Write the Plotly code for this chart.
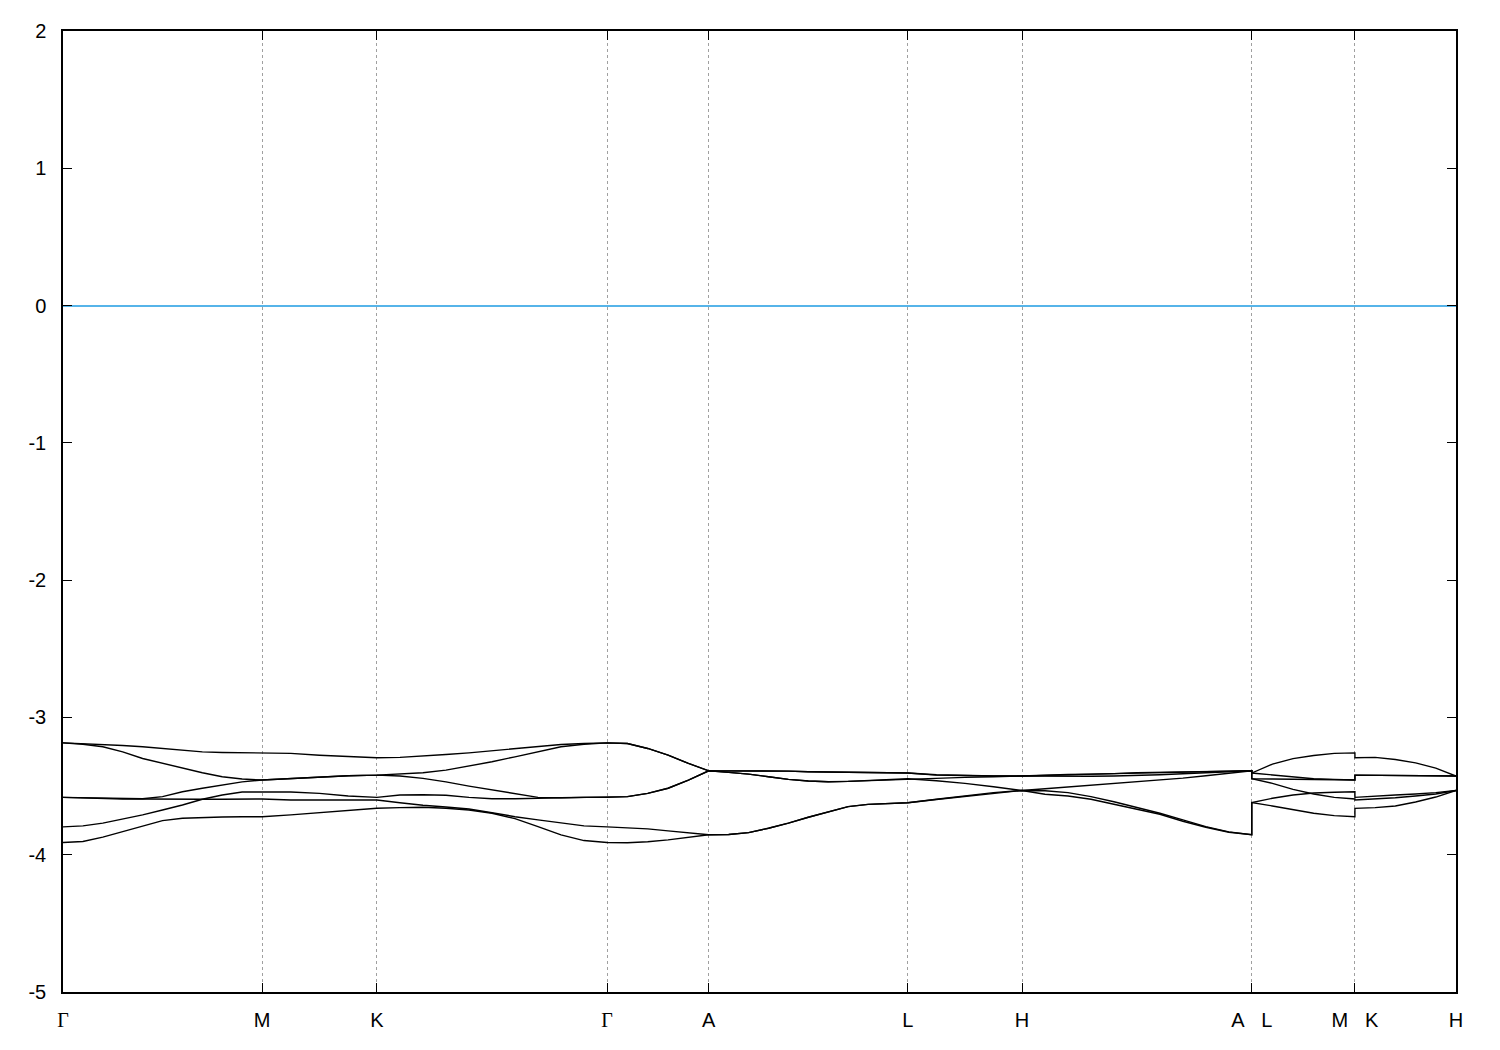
import plotly.graph_objects as go

# high-symmetry points along the path (k-distance, arbitrary units)
tick_pos = [0.0, 0.577, 0.910, 1.577, 1.872, 2.449, 2.780, 3.446, 3.745, 4.038]
tick_labels = ["Γ", "M", "K", "Γ", "A", "L", "H", "A\u00a0\u00a0\u00a0L", "M\u00a0\u00a0\u00a0K", "H"]

y_ticks = [-5, -4, -3, -2, -1, 0, 1, 2]
y_tick_labels = ["-5", "-4", "-3", "-2", "-1", "0", "1", "2"]

# sampled k-points (duplicates at A|L and M|K discontinuities)
kdist = [
    0.0, 0.0577, 0.1154, 0.1731, 0.2308, 0.2885, 0.3462, 0.4039, 0.4616, 0.5193, 0.577,
    0.6603, 0.7435, 0.8268, 0.910,
    0.9767, 1.0434, 1.1101, 1.1768, 1.2435, 1.3102, 1.3769, 1.4436, 1.5103, 1.577,
    1.636, 1.695, 1.754, 1.813, 1.872,
    1.9297, 1.9874, 2.0451, 2.1028, 2.1605, 2.2182, 2.2759, 2.3336, 2.3913, 2.449,
    2.5318, 2.6145, 2.6973, 2.780,
    2.8466, 2.9132, 2.9798, 3.0464, 3.113, 3.1796, 3.2462, 3.3128, 3.3794, 3.446,
    3.446, 3.5058, 3.5656, 3.6254, 3.6852, 3.745,
    3.745, 3.8036, 3.8622, 3.9208, 3.9794, 4.038,
]

band1 = [
    -3.185, -3.190, -3.195, -3.204, -3.214, -3.226, -3.238, -3.251, -3.255, -3.258, -3.258,
    -3.262, -3.275, -3.287, -3.294,
    -3.291, -3.282, -3.270, -3.258, -3.244, -3.229, -3.214, -3.197, -3.190, -3.185,
    -3.190, -3.226, -3.275, -3.335, -3.389,
    -3.389, -3.389, -3.389, -3.391, -3.396, -3.398, -3.400, -3.403, -3.403, -3.405,
    -3.420, -3.425, -3.427, -3.427,
    -3.420, -3.416, -3.413, -3.409, -3.405, -3.402, -3.398, -3.395, -3.391, -3.389,
    -3.405, -3.340, -3.300, -3.277, -3.262, -3.258,
    -3.294, -3.291, -3.306, -3.331, -3.369, -3.427,
]

band2 = [
    -3.185, -3.195, -3.214, -3.251, -3.299, -3.335, -3.371, -3.403, -3.432, -3.449, -3.456,
    -3.444, -3.432, -3.425, -3.420,
    -3.413, -3.403, -3.384, -3.355, -3.323, -3.287, -3.251, -3.214, -3.195, -3.185,
    -3.190, -3.226, -3.275, -3.335, -3.389,
    -3.389, -3.389, -3.389, -3.391, -3.396, -3.398, -3.400, -3.403, -3.403, -3.405,
    -3.418, -3.424, -3.427, -3.427,
    -3.429, -3.431, -3.429, -3.427, -3.424, -3.418, -3.410, -3.403, -3.396, -3.389,
    -3.405, -3.420, -3.437, -3.447, -3.451, -3.456,
    -3.420, -3.422, -3.425, -3.427, -3.427, -3.427,
]

band3 = [
    -3.582, -3.585, -3.589, -3.592, -3.592, -3.577, -3.541, -3.516, -3.493, -3.469, -3.456,
    -3.444, -3.432, -3.425, -3.420,
    -3.427, -3.444, -3.469, -3.500, -3.529, -3.558, -3.582, -3.585, -3.582, -3.582,
    -3.577, -3.553, -3.516, -3.456, -3.389,
    -3.400, -3.413, -3.432, -3.451, -3.463, -3.469, -3.466, -3.461, -3.456, -3.447,
    -3.444, -3.437, -3.432, -3.427,
    -3.424, -3.420, -3.415, -3.409, -3.402, -3.398, -3.395, -3.393, -3.391, -3.389,
    -3.447, -3.449, -3.451, -3.454, -3.456, -3.456,
    -3.420, -3.422, -3.425, -3.427, -3.427, -3.427,
]

band4 = [
    -3.582, -3.587, -3.592, -3.594, -3.594, -3.596, -3.596, -3.596, -3.596, -3.594, -3.594,
    -3.601, -3.601, -3.601, -3.601,
    -3.621, -3.640, -3.652, -3.667, -3.694, -3.723, -3.746, -3.770, -3.790, -3.797,
    -3.802, -3.812, -3.826, -3.843, -3.855,
    -3.853, -3.839, -3.807, -3.770, -3.727, -3.686, -3.650, -3.633, -3.625, -3.621,
    -3.596, -3.572, -3.548, -3.532,
    -3.534, -3.548, -3.577, -3.614, -3.654, -3.698, -3.746, -3.795, -3.834, -3.855,
    -3.621, -3.589, -3.565, -3.551, -3.545, -3.541,
    -3.582, -3.572, -3.565, -3.558, -3.548, -3.532,
]

band5 = [
    -3.797, -3.790, -3.770, -3.741, -3.710, -3.674, -3.638, -3.596, -3.565, -3.543, -3.541,
    -3.543, -3.553, -3.572, -3.582,
    -3.565, -3.563, -3.567, -3.582, -3.592, -3.592, -3.587, -3.585, -3.582, -3.582,
    -3.577, -3.553, -3.516, -3.456, -3.389,
    -3.400, -3.413, -3.432, -3.451, -3.463, -3.469, -3.466, -3.461, -3.456, -3.447,
    -3.461, -3.480, -3.505, -3.532,
    -3.519, -3.507, -3.493, -3.480, -3.471, -3.456, -3.442, -3.425, -3.405, -3.389,
    -3.447, -3.480, -3.524, -3.558, -3.582, -3.594,
    -3.601, -3.594, -3.585, -3.572, -3.558, -3.532,
]

band6 = [
    -3.911, -3.904, -3.872, -3.832, -3.790, -3.752, -3.734, -3.727, -3.725, -3.723, -3.723,
    -3.710, -3.694, -3.674, -3.662,
    -3.657, -3.654, -3.662, -3.674, -3.698, -3.737, -3.795, -3.855, -3.897, -3.911,
    -3.913, -3.906, -3.892, -3.872, -3.855,
    -3.853, -3.839, -3.807, -3.770, -3.727, -3.686, -3.650, -3.633, -3.625, -3.621,
    -3.598, -3.575, -3.551, -3.532,
    -3.560, -3.572, -3.596, -3.630, -3.669, -3.705, -3.756, -3.800, -3.836, -3.855,
    -3.621, -3.645, -3.674, -3.698, -3.715, -3.723,
    -3.662, -3.657, -3.645, -3.616, -3.580, -3.532,
]

bands = [band1, band2, band3, band4, band5, band6]

fig = go.Figure()
for b in bands:
    fig.add_trace(go.Scatter(
        x=kdist, y=b, mode="lines",
        line=dict(color="black", width=1.4),
        showlegend=False, hoverinfo="skip",
    ))

styled_ticks = [
    '<span style="font-family:\'Liberation Serif\', \'DejaVu Serif\', serif">Γ</span>' if t == "Γ" else t
    for t in tick_labels
]

font_main = "Liberation Sans, Arial, Helvetica, sans-serif"

fig.update_layout(
    width=1500, height=1050,
    margin=dict(l=55, r=52, t=18, b=66),
    paper_bgcolor="white", plot_bgcolor="white",
    font=dict(family=font_main, size=20, color="black"),
    xaxis=dict(
        range=[tick_pos[0], tick_pos[-1]],
        tickmode="array", tickvals=tick_pos, ticktext=styled_ticks,
        ticks="inside", ticklen=9, tickwidth=1.3, tickcolor="black",
        showgrid=True, gridcolor="#a0a0a0", gridwidth=1, griddash="3px,3px",
        showline=True, linecolor="black", linewidth=1.5, mirror="ticks",
        zeroline=False, ticklabelstandoff=9,
        tickfont=dict(family=font_main, size=20, color="black"),
    ),
    yaxis=dict(
        range=[-5, 2],
        tickmode="array", tickvals=y_ticks, ticktext=y_tick_labels,
        ticks="inside", ticklen=9, tickwidth=1.3, tickcolor="black",
        showgrid=False,
        showline=True, linecolor="black", linewidth=1.5, mirror="ticks",
        zeroline=True, zerolinecolor="#56b4e9", zerolinewidth=1.5,
        ticklabelstandoff=11,
        tickfont=dict(family=font_main, size=20, color="black"),
    ),
)

fig.write_html("out.html")
